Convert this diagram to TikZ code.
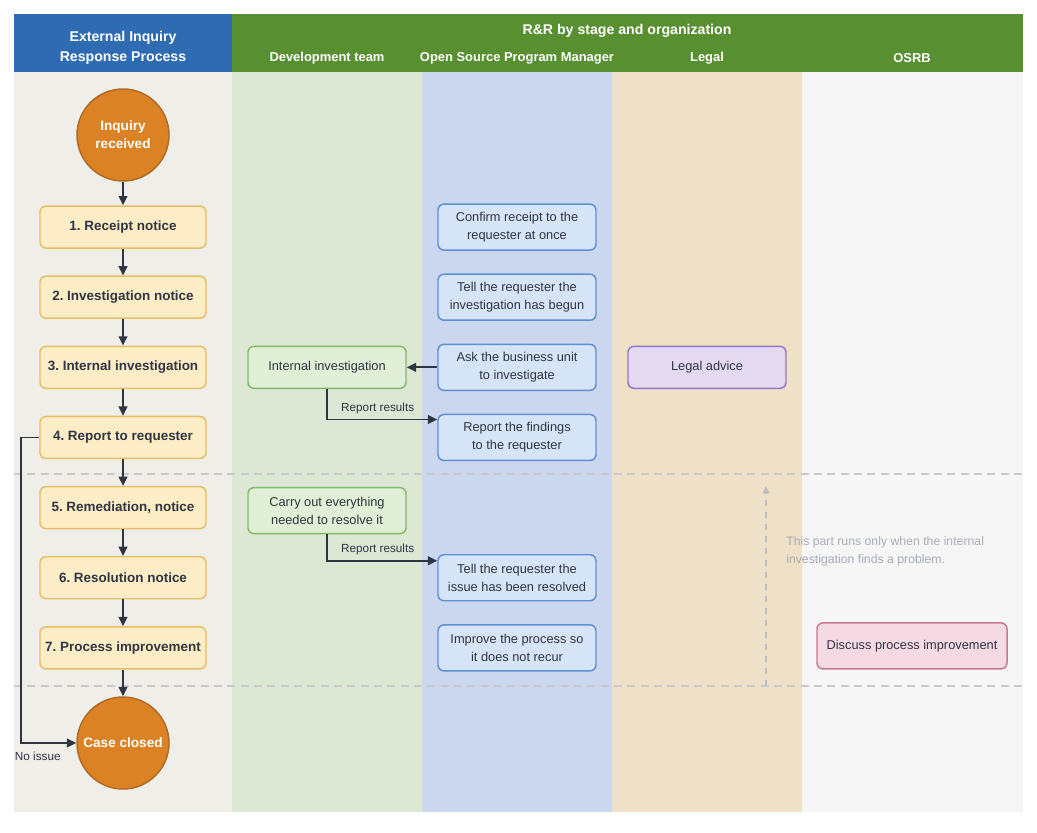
\documentclass[tikz,border=0pt]{standalone}
\usepackage{fontspec}
\setmainfont{Liberation Sans}
\usetikzlibrary{positioning, arrows.meta}
\frenchspacing

\definecolor{headblue}{HTML}{2F6BB3}
\definecolor{headgreen}{HTML}{578F31}
\definecolor{lanegray}{HTML}{EFEEE9}
\definecolor{lanegreen}{HTML}{DCE7D4}
\definecolor{laneblue}{HTML}{CAD7EE}
\definecolor{lanebeige}{HTML}{EEE1C7}
\definecolor{laneosrb}{HTML}{F6F6F6}
\definecolor{ink}{HTML}{2F3542}
\definecolor{eventfill}{HTML}{DA8224}
\definecolor{eventdraw}{HTML}{B06A24}
\definecolor{stepfill}{HTML}{FDEDC6}
\definecolor{stepdraw}{HTML}{E5BE66}
\definecolor{ospmfill}{HTML}{D6E4F7}
\definecolor{ospmdraw}{HTML}{5F8FD6}
\definecolor{devfill}{HTML}{E1EFD6}
\definecolor{devdraw}{HTML}{84B96A}
\definecolor{legalfill}{HTML}{E3DAF2}
\definecolor{legaldraw}{HTML}{9474C4}
\definecolor{osrbfill}{HTML}{F5DAE4}
\definecolor{osrbdraw}{HTML}{C67894}
\definecolor{sepgray}{HTML}{C9C9C9}
\definecolor{notegray}{HTML}{A7ACB7}

\begin{document}
\begin{tikzpicture}[
                x = 0.75pt, y = -0.75pt,
                node distance = 20pt and 23pt,
                    head/.style = {text=white, font=\fontsize{10.6}{15}\selectfont\bfseries, align=center},
                    subhead/.style = {text=white, font=\fontsize{9.7}{12}\selectfont\bfseries},
                    event/.style = {circle, draw=eventdraw, fill=eventfill, line width=1.1pt, minimum size=69pt, inner sep=0pt, align=center, text=white, font=\fontsize{10.2}{13.5}\selectfont\bfseries},
                    stepbox/.style = {draw=stepdraw, fill=stepfill, rounded corners=4.5pt, line width=1.1pt, minimum width=124.5pt, minimum height=31.5pt, align=center, text=ink, font=\fontsize{10.1}{13.5}\selectfont\bfseries},
                    task/.style = {rounded corners=4.5pt, line width=1.1pt, minimum width=118.5pt, minimum height=34.5pt, inner sep=2pt, align=center, text=ink, font=\fontsize{9.6}{13.5}\selectfont},
                    ospm/.style = {task, draw=ospmdraw, fill=ospmfill},
                    dev/.style = {task, draw=devdraw, fill=devfill},
                    legal/.style = {task, draw=legaldraw, fill=legalfill, minimum height=31.5pt},
                    osrb/.style = {task, draw=osrbdraw, fill=osrbfill, minimum width=142.5pt},
                    arrow/.style = {-{Triangle[length=7pt, width=6.5pt]}, line width=1.4pt, draw=ink},
                    lbl/.style = {text=ink, font=\fontsize{8.8}{11}\selectfont},
                    sepline/.style = {dash pattern=on 6pt off 4pt, draw=sepgray, line width=1.1pt},
                    noteline/.style = {-{Triangle[length=5.5pt, width=5pt]}, dash pattern=on 4.5pt off 4.5pt, draw=notegray!80, line width=1pt}
                ]

                \useasboundingbox (0,0) rectangle (1037,832);

                % lanes and header bands
                \fill[lanegray] (14,72) rectangle (232,812);
                \fill[lanegreen] (232,72) rectangle (422,812);
                \fill[laneblue] (422,72) rectangle (612,812);
                \fill[lanebeige] (612,72) rectangle (802,812);
                \fill[laneosrb] (802,72) rectangle (1023,812);
                \fill[headblue] (14,14) rectangle (232,72);
                \fill[headgreen] (232,14) rectangle (1023,72);

                \node[head] (hproc) at (123,48) {External Inquiry\\Response Process};
                \node[head] (hrr) at (627,30.5) {R\&R by stage and organization};
                \node[subhead] (hdev) at (327,58.5) {Development team};
                \node[subhead] (hospm) at (517,58.5) {Open Source Program Manager};
                \node[subhead] (hlegal) at (707,58.5) {Legal};
                \node[subhead] (hosrb) at (912,58.5) {OSRB};

                % stage boundaries
                \draw[sepline] (14,474) -- (1023,474);
                \draw[sepline] (14,686) -- (1023,686);

                % process column
                \node[event] (inq) at (123,135) {Inquiry\\received};
                \node[stepbox, below=17.7pt of inq] (s1) {1. Receipt notice};
                \node[stepbox, below=of s1] (s2) {2. Investigation notice};
                \node[stepbox, below=of s2] (s3) {3. Internal investigation};
                \node[stepbox, below=of s3] (s4) {4. Report to requester};
                \node[stepbox, below=of s4] (s5) {5. Remediation, notice};
                \node[stepbox, below=of s5] (s6) {6. Resolution notice};
                \node[stepbox, below=of s6] (s7) {7. Process improvement};
                \node[event, below=of s7] (closed) {Case closed};

                % roles
                \node[dev, minimum height=31.5pt] (intinv) at (hdev |- s3) {Internal investigation};
                \node[dev] (carry) at ([yshift=-2.25pt]hdev |- s5) {Carry out everything\\needed to resolve it};
                \node[ospm] (confirm) at (hospm |- s1) {Confirm receipt to the\\requester at once};
                \node[ospm] (begun) at (hospm |- s2) {Tell the requester the\\investigation has begun};
                \node[ospm] (ask) at (hospm |- s3) {Ask the business unit\\to investigate};
                \node[ospm] (findings) at (hospm |- s4) {Report the findings\\to the requester};
                \node[ospm] (resolved) at (hospm |- s6) {Tell the requester the\\issue has been resolved};
                \node[ospm] (improve) at (hospm |- s7) {Improve the process so\\it does not recur};
                \node[legal] (advice) at (hlegal |- s3) {Legal advice};
                \node[osrb] (discuss) at ([yshift=1.5pt]hosrb |- s7) {Discuss process improvement};

                \draw[arrow] (inq) -- (s1);
                \draw[arrow] (s1) -- (s2);
                \draw[arrow] (s2) -- (s3);
                \draw[arrow] (s3) -- (s4);
                \draw[arrow] (s4) -- (s5);
                \draw[arrow] (s5) -- (s6);
                \draw[arrow] (s6) -- (s7);
                \draw[arrow] (s7) -- (closed);
                \draw[arrow] (s4.west) -- ++(-18,0) |- node[lbl, below=3pt, pos=0.65] {No issue} (closed.west);

                \draw[arrow] (ask) -- (intinv);
                \draw[arrow] (intinv.south) |- node[lbl, above, pos=0.73] {Report results} ([yshift=13.5pt]findings.west);
                \draw[arrow] (carry.south) |- node[lbl, above, pos=0.73] {Report results} ([yshift=12.75pt]resolved.west);

                % conditional part
                \coordinate (hintfoot) at (766,686);
                \coordinate (hinttip) at (766,486);
                \draw[noteline] (hintfoot) -- (hinttip);
                \node[lbl, text=notegray, font=\fontsize{9.2}{13.5}\selectfont, align=left, anchor=north west, inner sep=0pt] (note) at (786,536) {This part runs only when the internal\\investigation finds a problem.};

            \end{tikzpicture}
\end{document}
